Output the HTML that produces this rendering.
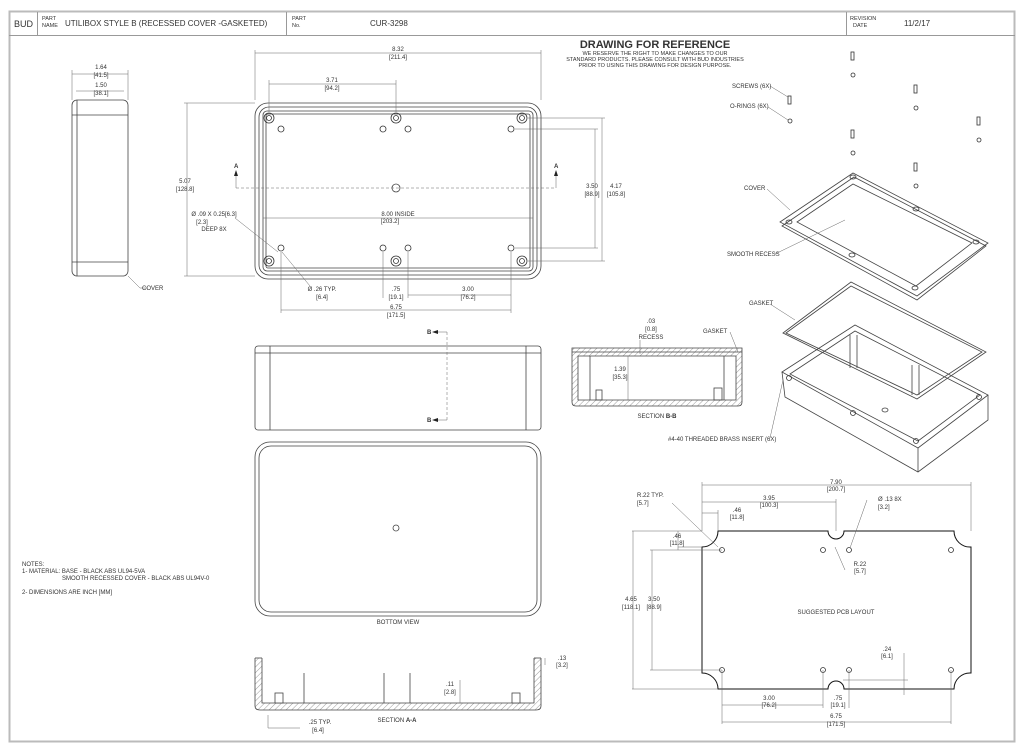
<!DOCTYPE html>
<html><head><meta charset="utf-8"><style>
html,body{margin:0;padding:0;background:#fff}
svg{display:block}
text{font-family:"Liberation Sans",sans-serif;fill:#333}
</style></head><body>
<svg width="1024" height="751" viewBox="0 0 1024 751" xmlns="http://www.w3.org/2000/svg">
<defs>
<pattern id="h" width="4" height="4" patternUnits="userSpaceOnUse" patternTransform="rotate(45)">
<line x1="0" y1="0" x2="0" y2="4" stroke="#555" stroke-width="0.6"/></pattern>
</defs>
<rect x="0" y="0" width="1024" height="751" fill="#fff"/>
<rect x="9.5" y="11.5" width="1005" height="730" fill="none" stroke="#bbb" stroke-width="2"/>
<line x1="9" y1="35.5" x2="1015" y2="35.5" stroke="#999" stroke-width="1"/>
<g stroke="#999" stroke-width="1">
<line x1="37.5" y1="12" x2="37.5" y2="35"/><line x1="286.5" y1="12" x2="286.5" y2="35"/>
<line x1="846.5" y1="12" x2="846.5" y2="35"/>
</g>
<g font-size="5.5"><text x="42" y="20">PART</text><text x="42" y="27">NAME</text>
<text x="292" y="20">PART</text><text x="292" y="27">No.</text>
<text x="850" y="20">REVISION</text><text x="853" y="27">DATE</text></g>
<text x="14" y="27" font-size="9" fill="#999">BUD</text>
<g font-size="8"><text x="65" y="26">UTILIBOX STYLE B  (RECESSED COVER -GASKETED)</text>
<text x="370" y="26">CUR-3298</text><text x="904" y="26">11/2/17</text></g>

<text x="655" y="48" font-size="11" font-weight="bold" text-anchor="middle" fill="#111">DRAWING FOR REFERENCE</text>
<g font-size="5.5" text-anchor="middle"><text x="655" y="55">WE RESERVE THE RIGHT TO MAKE CHANGES TO OUR</text>
<text x="655" y="61">STANDARD PRODUCTS. PLEASE CONSULT WITH BUD INDUSTRIES</text>
<text x="655" y="67">PRIOR TO USING THIS DRAWING FOR DESIGN PURPOSE.</text></g>

<!-- hatched sections -->
<path d="M572 348 L742 348 L742 402 Q742 406 738 406 L576 406 Q572 406 572 402 Z M578 356 L578 400 L736 400 L736 356 Z" fill="url(#h)" fill-rule="evenodd"/>
<path d="M255 658 L262 658 L262 703 L534 703 L534 658 L541 658 L541 706 Q541 710 536 710 L260 710 Q255 710 255 706 Z" fill="url(#h)"/>

<g fill="none" stroke="#444" stroke-width="0.8">
<!-- side view -->
<rect x="72" y="100" width="56" height="176" rx="5"/>
<line x1="72" y1="115" x2="128" y2="115"/><line x1="72" y1="262" x2="128" y2="262"/>
<line x1="77" y1="100" x2="77" y2="276"/>
<!-- plan view -->
<rect x="255" y="103" width="286" height="176" rx="13"/>
<rect x="259" y="107" width="278" height="168" rx="10"/>
<rect x="263" y="111" width="270" height="160" rx="4"/>
<rect x="266" y="114" width="264" height="154" rx="2"/>
<circle cx="396" cy="188" r="4"/>
<!-- front view -->
<rect x="255" y="346" width="286" height="84" rx="3"/>
<line x1="270" y1="346" x2="270" y2="430"/><line x1="526" y1="346" x2="526" y2="430"/>
<line x1="255" y1="353" x2="541" y2="353"/>
<!-- bottom view -->
<rect x="255" y="442" width="286" height="174" rx="15"/>
<rect x="259" y="446" width="278" height="166" rx="12"/>
<circle cx="396" cy="528" r="3"/>
<!-- section A-A -->
<path d="M255 658 L255 706 Q255 710 260 710 L536 710 Q541 710 541 706 L541 658"/>
<path d="M262 658 L262 703 L534 703 L534 658"/>
<line x1="255" y1="658" x2="262" y2="658"/><line x1="534" y1="658" x2="541" y2="658"/>
<rect x="275" y="693" width="8" height="10" fill="#fff"/><rect x="512" y="693" width="8" height="10" fill="#fff"/>
<line x1="304" y1="673" x2="304" y2="703"/><line x1="384" y1="673" x2="384" y2="703"/><line x1="410" y1="673" x2="410" y2="703"/>
<!-- section B-B -->
<path d="M572 348 L572 402 Q572 406 576 406 L738 406 Q742 406 742 402 L742 348 Z"/>
<path d="M578 356 L578 400 L736 400 L736 356 Z" fill="#fff"/>
<line x1="572" y1="352" x2="742" y2="352"/>
<rect x="596" y="390" width="6" height="10"/><rect x="714" y="388" width="8" height="12"/>
<line x1="590" y1="356" x2="590" y2="400"/><line x1="724" y1="356" x2="724" y2="400"/>
<!-- PCB -->
<path d="M718 531 L828 531 A8 8 0 0 0 844 531 L954 531 A16 16 0 0 0 971 547 L971 673 A16 16 0 0 0 954 689 L844 689 A8 8 0 0 0 828 689 L718 689 A16 16 0 0 0 702 673 L702 547 A16 16 0 0 0 718 531 Z" stroke="#111" stroke-width="1"/>
<!-- exploded cover -->
<path d="M780 222 L853 173 L988 243 L917 296 Z"/>
<path d="M782 226 L854 177 L986 246 L917 300 Z"/>
<path d="M797 222 L853 184 L972 243 L916 286 Z"/>
<!-- gasket -->
<path d="M783 333 L851 282 L986 352 L917 399 Z"/>
<path d="M786 333 L851 286 L982 352 L917 395 Z"/>
<!-- base -->
<path d="M782 372 L855 325 L988 395 L918 448 Z"/>
<path d="M790 374 L855 331 L980 395 L918 441 Z"/>
<path d="M782 372 L785 397 L918 472 L988 420 L988 395"/>
<line x1="918" y1="448" x2="918" y2="472"/>
<line x1="850" y1="335" x2="850" y2="368"/><line x1="857" y1="335" x2="857" y2="368"/>
<line x1="912" y1="365" x2="912" y2="395"/><line x1="919" y1="365" x2="919" y2="395"/>
<ellipse cx="885" cy="410" rx="3" ry="2"/>
</g>
<g fill="none" stroke="#333" stroke-width="0.8">
<g><circle cx="269" cy="118" r="5"/><circle cx="269" cy="118" r="2.5"/></g>
<g><circle cx="396" cy="118" r="5"/><circle cx="396" cy="118" r="2.5"/></g>
<g><circle cx="522" cy="118" r="5"/><circle cx="522" cy="118" r="2.5"/></g>
<g><circle cx="269" cy="261" r="5"/><circle cx="269" cy="261" r="2.5"/></g>
<g><circle cx="396" cy="261" r="5"/><circle cx="396" cy="261" r="2.5"/></g>
<g><circle cx="522" cy="261" r="5"/><circle cx="522" cy="261" r="2.5"/></g>
<circle cx="281" cy="129" r="3"/><circle cx="383" cy="129" r="3"/><circle cx="408" cy="129" r="3"/><circle cx="511" cy="129" r="3"/>
<circle cx="281" cy="248" r="3"/><circle cx="383" cy="248" r="3"/><circle cx="408" cy="248" r="3"/><circle cx="511" cy="248" r="3"/>
<circle cx="722" cy="550" r="2.5"/><circle cx="823" cy="550" r="2.5"/><circle cx="849" cy="550" r="2.5"/><circle cx="951" cy="550" r="2.5"/>
<circle cx="722" cy="670" r="2.5"/><circle cx="823" cy="670" r="2.5"/><circle cx="849" cy="670" r="2.5"/><circle cx="951" cy="670" r="2.5"/>
<ellipse cx="853" cy="177" rx="3" ry="2"/><ellipse cx="916" cy="209" rx="3" ry="2"/><ellipse cx="976" cy="242" rx="3" ry="2"/>
<ellipse cx="789" cy="222" rx="3" ry="2"/><ellipse cx="852" cy="255" rx="3" ry="2"/><ellipse cx="915" cy="288" rx="3" ry="2"/>
<circle cx="789" cy="378" r="2.5"/><circle cx="853" cy="413" r="2.5"/><circle cx="916" cy="441" r="2.5"/><circle cx="979" cy="397" r="2.5"/>
<rect x="851" y="52" width="3" height="8"/><rect x="914" y="85" width="3" height="8"/><rect x="977" y="117" width="3" height="8"/>
<rect x="851" y="130" width="3" height="8"/><rect x="914" y="163" width="3" height="8"/><rect x="788" y="96" width="3" height="8"/>
<circle cx="853" cy="75" r="2"/><circle cx="916" cy="108" r="2"/><circle cx="979" cy="140" r="2"/>
<circle cx="853" cy="153" r="2"/><circle cx="916" cy="186" r="2"/><circle cx="790" cy="121" r="2"/>
</g>
<g stroke="#666" stroke-width="0.5" fill="none">
<line x1="255" y1="53" x2="541" y2="53"/><line x1="255" y1="50" x2="255" y2="100"/><line x1="541" y1="50" x2="541" y2="100"/>
<line x1="269" y1="84" x2="396" y2="84"/><line x1="269" y1="80" x2="269" y2="112"/><line x1="396" y1="80" x2="396" y2="112"/>
<line x1="187" y1="103" x2="187" y2="276"/><line x1="184" y1="103" x2="255" y2="103"/><line x1="184" y1="276" x2="255" y2="276"/>
<line x1="263" y1="218" x2="533" y2="218"/>
<line x1="236" y1="188" x2="556" y2="188" stroke-dasharray="3,2"/>
<line x1="236" y1="172" x2="236" y2="188"/><line x1="556" y1="172" x2="556" y2="188"/>
<line x1="281" y1="310" x2="511" y2="310"/><line x1="281" y1="252" x2="281" y2="313"/><line x1="511" y1="252" x2="511" y2="313"/>
<line x1="383" y1="252" x2="383" y2="298"/><line x1="408" y1="252" x2="408" y2="298"/><line x1="408" y1="295" x2="511" y2="295"/>
<line x1="602" y1="118" x2="602" y2="261"/><line x1="528" y1="118" x2="605" y2="118"/><line x1="528" y1="261" x2="605" y2="261"/>
<line x1="595" y1="129" x2="595" y2="248"/><line x1="515" y1="129" x2="598" y2="129"/><line x1="515" y1="248" x2="598" y2="248"/>
<line x1="72" y1="74" x2="128" y2="74"/><line x1="76" y1="91" x2="124" y2="91"/>
<line x1="72" y1="70" x2="72" y2="100"/><line x1="128" y1="70" x2="128" y2="100"/>
<line x1="128" y1="276" x2="140" y2="288"/><line x1="140" y1="288" x2="148" y2="288"/>
<line x1="235" y1="218" x2="278" y2="252"/><line x1="282" y1="252" x2="310" y2="286"/>
<line x1="447" y1="332" x2="447" y2="420" stroke-dasharray="3,2"/><line x1="436" y1="332" x2="447" y2="332"/><line x1="436" y1="420" x2="447" y2="420"/>
<line x1="640" y1="340" x2="640" y2="354"/><line x1="730" y1="332" x2="738" y2="352"/>
<line x1="628" y1="356" x2="628" y2="400"/>
<line x1="268" y1="715" x2="268" y2="728"/><line x1="268" y1="728" x2="300" y2="728"/>
<line x1="460" y1="680" x2="460" y2="703"/>
<line x1="545" y1="658" x2="545" y2="665"/>
<line x1="702" y1="485" x2="971" y2="485"/><line x1="702" y1="482" x2="702" y2="531"/><line x1="971" y1="482" x2="971" y2="531"/>
<line x1="702" y1="502" x2="836" y2="502"/><line x1="836" y1="499" x2="836" y2="531"/>
<line x1="702" y1="513" x2="718" y2="513"/><line x1="718" y1="510" x2="718" y2="531"/>
<line x1="632" y1="531" x2="702" y2="531"/><line x1="632" y1="689" x2="718" y2="689"/><line x1="633" y1="531" x2="633" y2="689"/>
<line x1="652" y1="550" x2="652" y2="670"/><line x1="650" y1="550" x2="722" y2="550"/><line x1="650" y1="670" x2="722" y2="670"/>
<line x1="678" y1="531" x2="678" y2="550"/><line x1="678" y1="547" x2="702" y2="547"/>
<line x1="722" y1="705" x2="823" y2="705"/><line x1="722" y1="670" x2="722" y2="724"/><line x1="823" y1="670" x2="823" y2="708"/>
<line x1="849" y1="670" x2="849" y2="708"/><line x1="722" y1="722" x2="951" y2="722"/><line x1="951" y1="670" x2="951" y2="724"/>
<line x1="904" y1="653" x2="904" y2="695"/><line x1="843" y1="680" x2="908" y2="680"/>
<line x1="672" y1="503" x2="718" y2="547"/><line x1="867" y1="500" x2="850" y2="548"/>
<line x1="835" y1="547" x2="845" y2="570"/>
<line x1="770" y1="86" x2="788" y2="97"/><line x1="768" y1="107" x2="788" y2="120"/>
<line x1="767" y1="189" x2="790" y2="210"/><line x1="775" y1="254" x2="845" y2="220"/>
<line x1="770" y1="304" x2="795" y2="320"/><line x1="770" y1="438" x2="783" y2="380"/>
</g>
<g fill="#222"><path d="M234 176 L236 170 L238 176 Z"/><path d="M554 176 L556 170 L558 176 Z"/>
<path d="M438 330 L432 332 L438 334 Z"/><path d="M438 418 L432 420 L438 422 Z"/></g>
<g font-size="6" text-anchor="middle">
<text x="398" y="51">8.32</text><text x="398" y="59">[211.4]</text>
<text x="332" y="82">3.71</text><text x="332" y="90">[94.2]</text>
<text x="101" y="69">1.64</text><text x="101" y="77">[41.5]</text>
<text x="101" y="87">1.50</text><text x="101" y="95">[38.1]</text>
<text x="185" y="183">5.07</text><text x="185" y="191">[128.8]</text>
<text x="398" y="216">8.00  INSIDE</text><text x="390" y="223">[203.2]</text>
<text x="592" y="188">3.50</text><text x="592" y="196">[88.9]</text>
<text x="616" y="188">4.17</text><text x="616" y="196">[105.8]</text>
<text x="322" y="291">Ø .26 TYP.</text><text x="322" y="299">[6.4]</text>
<text x="396" y="291">.75</text><text x="396" y="299">[19.1]</text>
<text x="468" y="291">3.00</text><text x="468" y="299">[76.2]</text>
<text x="396" y="309">6.75</text><text x="396" y="317">[171.5]</text>
<text x="214" y="216">Ø .09 X 0.25[6.3]</text><text x="202" y="224">[2.3]</text><text x="214" y="231">DEEP 8X</text>
<text x="651" y="323">.03</text><text x="651" y="331">[0.8]</text><text x="651" y="339">RECESS</text>
<text x="620" y="371">1.39</text><text x="620" y="379">[35.3]</text>
<text x="657" y="418">SECTION <tspan font-weight="bold">B-B</tspan></text>
<text x="398" y="624">BOTTOM VIEW</text>
<text x="397" y="722">SECTION <tspan font-weight="bold">A-A</tspan></text>
<text x="450" y="686">.11</text><text x="450" y="694">[2.8]</text>
<text x="320" y="724">.25  TYP.</text><text x="318" y="732">[6.4]</text>
<text x="562" y="660">.13</text><text x="562" y="667">[3.2]</text>
<text x="836" y="484">7.90</text><text x="836" y="491">[200.7]</text>
<text x="769" y="500">3.95</text><text x="769" y="507">[100.3]</text>
<text x="737" y="512">.46</text><text x="737" y="519">[11.8]</text>
<text x="677" y="538">.46</text><text x="677" y="545">[11.8]</text>
<text x="631" y="601">4.65</text><text x="631" y="609">[118.1]</text>
<text x="654" y="601">3.50</text><text x="654" y="609">[88.9]</text>
<text x="836" y="614">SUGGESTED PCB LAYOUT</text>
<text x="887" y="651">.24</text><text x="887" y="658">[6.1]</text>
<text x="769" y="700">3.00</text><text x="769" y="707">[76.2]</text>
<text x="838" y="700">.75</text><text x="838" y="707">[19.1]</text>
<text x="836" y="718">6.75</text><text x="836" y="726">[171.5]</text>
<text x="860" y="566">R.22</text><text x="860" y="573">[5.7]</text>
</g>
<g font-size="6">
<text x="142" y="290">COVER</text>
<text x="234" y="168" font-weight="bold">A</text><text x="554" y="168" font-weight="bold">A</text>
<text x="427" y="334" font-weight="bold">B</text><text x="427" y="422" font-weight="bold">B</text>
<text x="703" y="333">GASKET</text>
<text x="637" y="497">R.22 TYP.</text><text x="637" y="505">[5.7]</text>
<text x="878" y="501">Ø .13 8X</text><text x="878" y="509">[3.2]</text>
<text x="732" y="88">SCREWS (6X)</text>
<text x="730" y="108">O-RINGS (6X)</text>
<text x="744" y="190">COVER</text>
<text x="727" y="256">SMOOTH RECESS</text>
<text x="749" y="305">GASKET</text>
<text x="668" y="441">#4-40 THREADED BRASS INSERT (6X)</text>
<text x="22" y="566">NOTES:</text>
<text x="22" y="573">1- MATERIAL:  BASE - BLACK ABS UL94-5VA</text>
<text x="62" y="580">SMOOTH RECESSED COVER - BLACK ABS UL94V-0</text>
<text x="22" y="594">2- DIMENSIONS ARE INCH [MM]</text>
</g>
</svg>
</body></html>
